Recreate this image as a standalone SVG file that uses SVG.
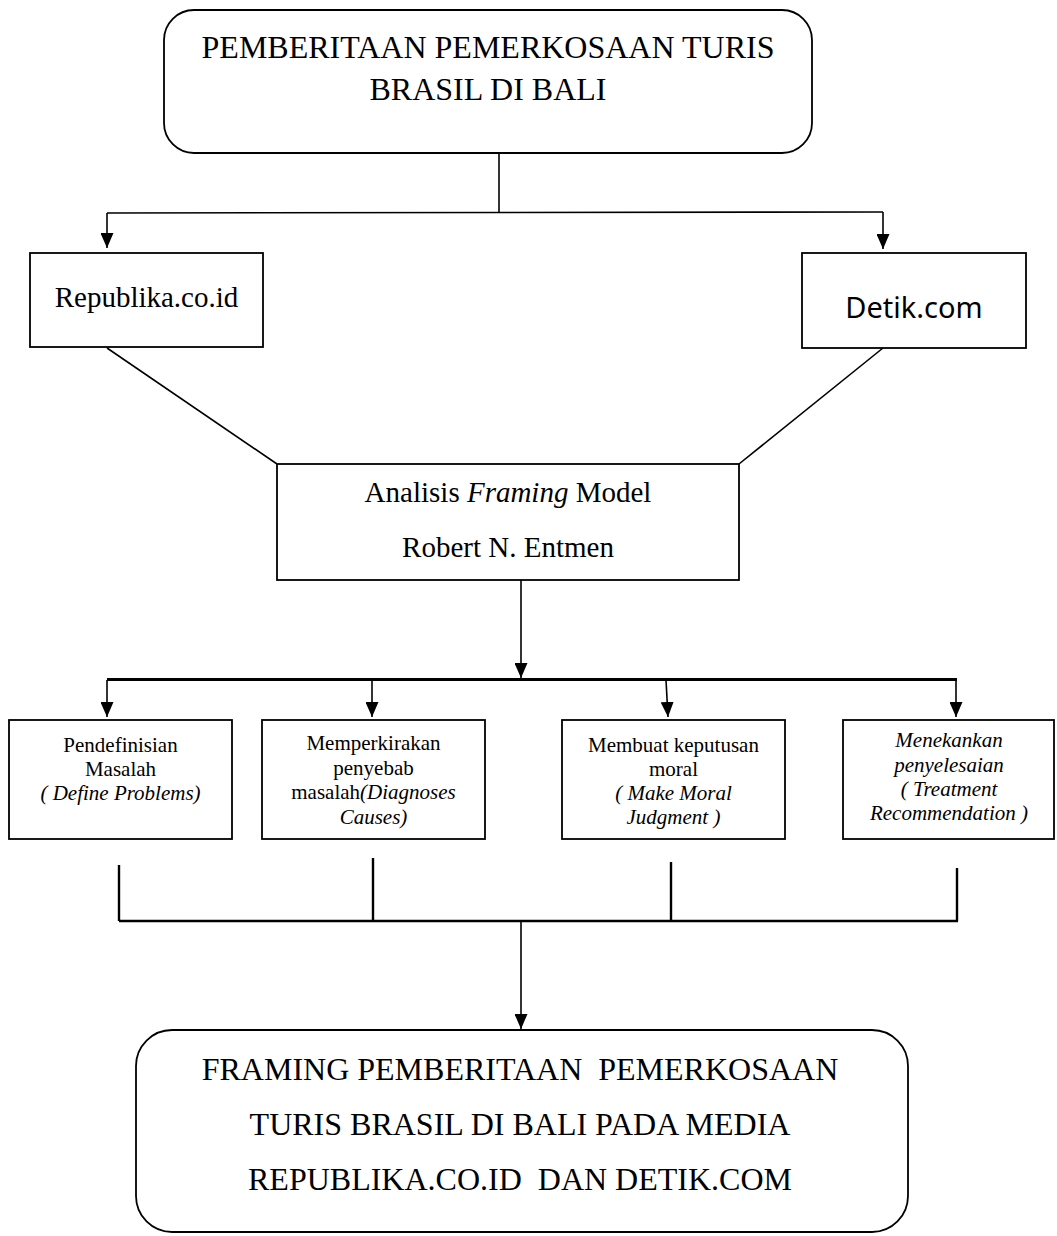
<svg xmlns="http://www.w3.org/2000/svg" width="1057" height="1236" viewBox="0 0 1057 1236">
<style>
.box{fill:#fff;stroke:#000;stroke-width:1.8}
.ln{fill:none;stroke:#000;stroke-width:1.6}
.thick{fill:none;stroke:#000;stroke-width:3}
.br{fill:none;stroke:#000;stroke-width:2.4}
.serif{font-family:"Liberation Serif","Times New Roman",serif;fill:#000}
.big{font-size:32px}
.mid{font-size:29px}
.sm{font-size:21px}
.it{font-style:italic}
.sans{font-family:"Noto Sans","Open Sans",sans-serif;font-size:29px;fill:#000}
</style>
<defs>
<marker id="ah" markerUnits="userSpaceOnUse" markerWidth="15" markerHeight="13" refX="15" refY="6.5" orient="auto">
<path d="M0,0 L15,6.5 L0,13 z" fill="#000"/>
</marker>
</defs>
<rect width="1057" height="1236" fill="#fff"/>
<g id="connectors">
<line class="ln" x1="499" y1="153" x2="499" y2="213"/>
<line class="ln" x1="107" y1="213" x2="883" y2="212"/>
<line class="ln" x1="107" y1="213" x2="107" y2="248" marker-end="url(#ah)"/>
<line class="ln" x1="883" y1="212" x2="883" y2="249" marker-end="url(#ah)"/>
<line class="ln" x1="107" y1="348" x2="277" y2="464"/>
<line class="ln" x1="883" y1="348" x2="739" y2="464"/>
<line class="ln" x1="521" y1="580" x2="521" y2="678" marker-end="url(#ah)"/>
<line class="thick" x1="107" y1="679.5" x2="957" y2="679.5"/>
<line class="ln" x1="107" y1="680" x2="107" y2="717" marker-end="url(#ah)"/>
<line class="ln" x1="372" y1="680" x2="372" y2="717" marker-end="url(#ah)"/>
<line class="ln" x1="666" y1="680" x2="668" y2="717" marker-end="url(#ah)"/>
<line class="ln" x1="956" y1="680" x2="956" y2="717" marker-end="url(#ah)"/>
<line class="br" x1="119" y1="865" x2="119" y2="921"/>
<line class="br" x1="373" y1="858" x2="373" y2="921"/>
<line class="br" x1="671" y1="862" x2="671" y2="921"/>
<line class="br" x1="957" y1="868" x2="957" y2="921"/>
<line class="br" x1="119" y1="921" x2="958" y2="921"/>
<line class="ln" x1="521" y1="921" x2="521" y2="1029" marker-end="url(#ah)"/>
</g>
<g id="node-top">
<rect class="box" x="164" y="10" width="648" height="143" rx="30" ry="30"/>
<text class="serif big" x="488" y="58" text-anchor="middle">PEMBERITAAN PEMERKOSAAN TURIS</text>
<text class="serif big" x="488" y="100" text-anchor="middle">BRASIL DI BALI</text>
</g>
<g id="node-republika">
<rect class="box" x="30" y="253" width="233" height="94"/>
<text class="serif mid" x="146.5" y="307" text-anchor="middle">Republika.co.id</text>
</g>
<g id="node-detik">
<rect class="box" x="802" y="253" width="224" height="95"/>
<text class="sans" x="914" y="318" text-anchor="middle">Detik.com</text>
</g>
<g id="node-analisis">
<rect class="box" x="277" y="464" width="462" height="116"/>
<text class="serif mid" x="508" y="502" text-anchor="middle">Analisis <tspan class="it">Framing</tspan> Model</text>
<text class="serif mid" x="508" y="557" text-anchor="middle">Robert N. Entmen</text>
</g>
<g id="node-define">
<rect class="box" x="9" y="720" width="223" height="119"/>
<text class="serif sm" x="120.5" y="752" text-anchor="middle">Pendefinisian</text>
<text class="serif sm" x="120.5" y="776" text-anchor="middle">Masalah</text>
<text class="serif sm it" x="120.5" y="800" text-anchor="middle">( Define Problems)</text>
</g>
<g id="node-diagnose">
<rect class="box" x="262" y="720" width="223" height="119"/>
<text class="serif sm" x="373.5" y="750" text-anchor="middle">Memperkirakan</text>
<text class="serif sm" x="373.5" y="775" text-anchor="middle">penyebab</text>
<text class="serif sm" x="373.5" y="799" text-anchor="middle">masalah<tspan class="it">(Diagnoses</tspan></text>
<text class="serif sm it" x="373.5" y="824" text-anchor="middle">Causes)</text>
</g>
<g id="node-moral">
<rect class="box" x="562" y="720" width="223" height="119"/>
<text class="serif sm" x="673.5" y="752" text-anchor="middle">Membuat keputusan</text>
<text class="serif sm" x="673.5" y="776" text-anchor="middle">moral</text>
<text class="serif sm it" x="673.5" y="800" text-anchor="middle">( Make Moral</text>
<text class="serif sm it" x="673.5" y="824" text-anchor="middle">Judgment )</text>
</g>
<g id="node-treatment">
<rect class="box" x="843" y="720" width="211" height="119"/>
<text class="serif sm it" x="949" y="747" text-anchor="middle">Menekankan</text>
<text class="serif sm it" x="949" y="772" text-anchor="middle">penyelesaian</text>
<text class="serif sm it" x="949" y="796" text-anchor="middle">( Treatment</text>
<text class="serif sm it" x="949" y="820" text-anchor="middle">Recommendation )</text>
</g>
<g id="node-result">
<rect class="box" x="136" y="1030" width="772" height="202" rx="36" ry="36"/>
<text class="serif big" x="520" y="1080" text-anchor="middle" xml:space="preserve">FRAMING PEMBERITAAN  PEMERKOSAAN</text>
<text class="serif big" x="520" y="1135" text-anchor="middle">TURIS BRASIL DI BALI PADA MEDIA</text>
<text class="serif big" x="520" y="1190" text-anchor="middle" xml:space="preserve">REPUBLIKA.CO.ID  DAN DETIK.COM</text>
</g>
</svg>
